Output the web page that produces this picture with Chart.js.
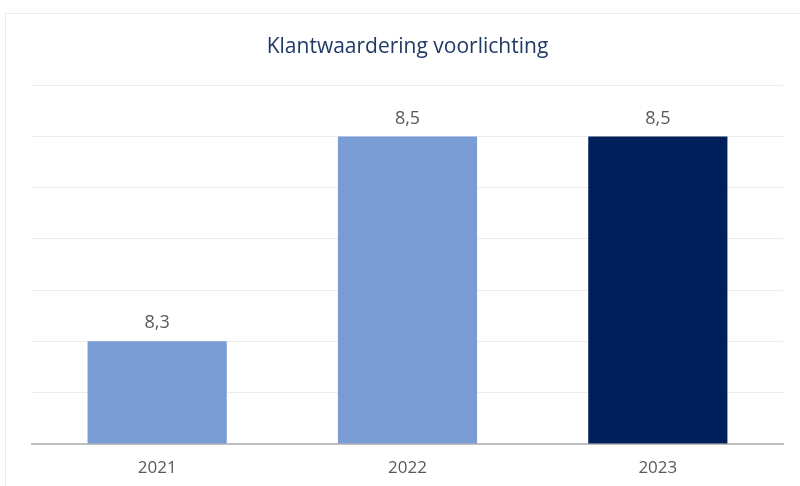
<!DOCTYPE html>
<html>
<head>
<meta charset="utf-8">
<script src="https://cdn.jsdelivr.net/npm/chart.js@4/dist/chart.umd.min.js"></script>
<style>
    html, body { margin: 0; padding: 0; background: #fff; }
    #wrap { position: relative; width: 800px; height: 486px; }
    #frame { position: absolute; left: 5px; top: 13px; width: 820px; height: 500px; border: 1px solid #ececec; }
    canvas { position: absolute; left: 0; top: 0; }
</style>
</head>
<body>
<div id="wrap">
    <div id="frame"></div>
    <canvas id="chart" width="800" height="486"></canvas>
</div>
<script>
const years = ["2021", "2022", "2023"];
const scores = [8.3, 8.5, 8.5];
const barColors = ["#7a9cd5", "#7a9cd5", "#00205b"];

// values above each bar, written with a decimal comma
const valueLabels = {
    id: "valueLabels",
    afterDatasetsDraw(chart) {
        const ctx = chart.ctx;
        const meta = chart.getDatasetMeta(0);
        ctx.save();
        ctx.font = "18px 'Open Sans', sans-serif";
        ctx.fillStyle = "#595959";
        ctx.textAlign = "center";
        ctx.textBaseline = "bottom";
        meta.data.forEach((bar, i) => {
            ctx.fillText(scores[i].toFixed(1).replace(".", ","), bar.x, bar.y - 9);
        });
        ctx.restore();
    }
};

new Chart(document.getElementById("chart"), {
    type: "bar",
    data: {
        labels: years,
        datasets: [{
            data: scores,
            backgroundColor: barColors,
            categoryPercentage: 1,
            barPercentage: 0.556
        }]
    },
    options: {
        responsive: false,
        animation: false,
        layout: { padding: { left: 32, right: 17, top: 0, bottom: -6 } },
        plugins: {
            legend: { display: false },
            tooltip: { enabled: false },
            title: {
                display: true,
                text: "Klantwaardering voorlichting",
                color: "#1f3864",
                font: { family: "'Open Sans', sans-serif", size: 21, weight: "normal" },
                padding: { top: 34, bottom: 26 }
            }
        },
        scales: {
            x: {
                grid: { display: false, drawTicks: false },
                border: { color: "#bfbfbf", width: 2 },
                ticks: {
                    color: "#595959",
                    font: { family: "'Open Sans', sans-serif", size: 17 },
                    padding: 14
                }
            },
            y: {
                min: 8.2,
                max: 8.55,
                ticks: { display: false, stepSize: 0.05 },
                grid: { color: "#ececec", lineWidth: 1, drawTicks: false },
                border: { display: false }
            }
        }
    },
    plugins: [valueLabels]
});
</script>
</body>
</html>
